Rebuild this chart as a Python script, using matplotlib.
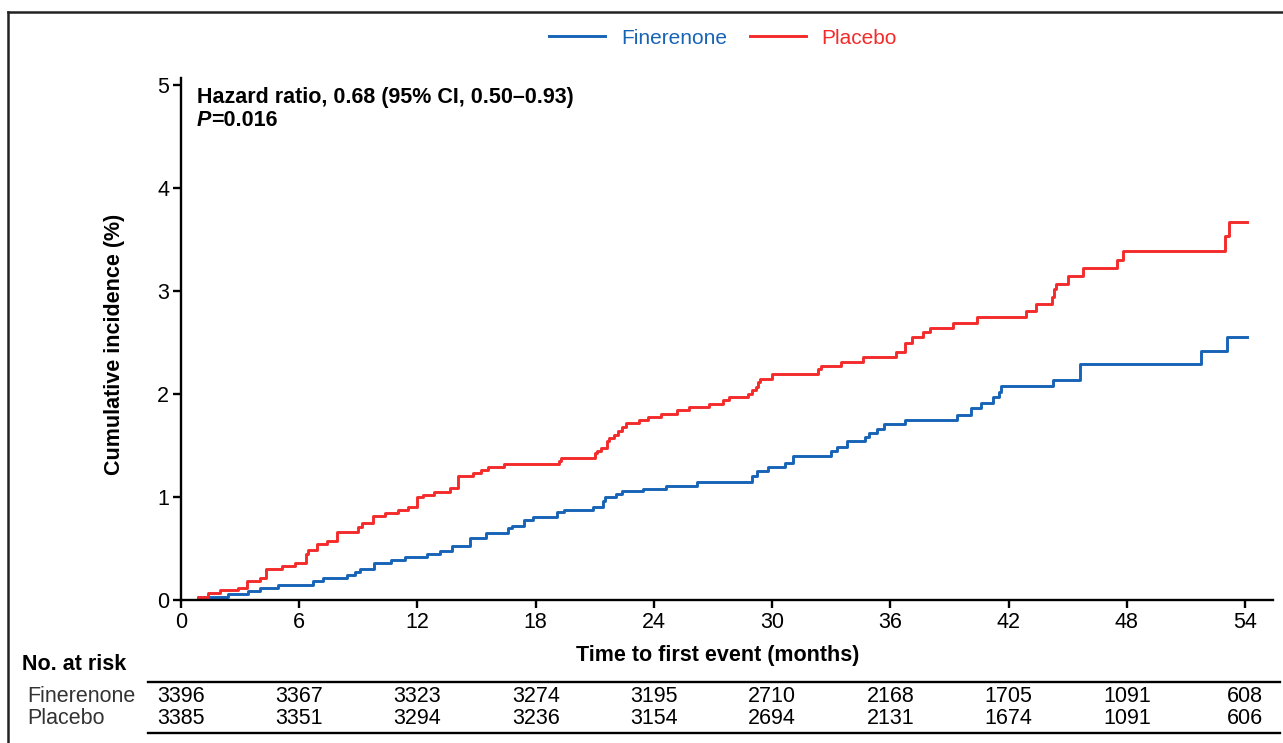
import matplotlib
matplotlib.use('Agg')
import matplotlib.pyplot as plt
from matplotlib.lines import Line2D
from matplotlib.transforms import blended_transform_factory

plt.rcParams['font.family'] = ['Liberation Sans', 'DejaVu Sans']

# step curves (time in months, cumulative incidence in %)
placebo_t = [0, 0.85, 1.35, 1.98, 2.9, 3.33, 4.0, 4.3, 5.15, 5.79, 6.35, 6.46, 6.9, 7.4, 7.9,
             8.97, 9.17, 9.76, 10.36, 11.0, 11.54, 12.0, 12.3, 12.86, 13.65, 14.08, 14.84, 15.2,
             15.6, 16.4, 19.2, 19.3, 21.0, 21.1, 21.3, 21.6, 21.73, 22.0, 22.2, 22.4, 22.57,
             23.26, 23.7, 24.37, 25.16, 25.8, 26.8, 27.5, 27.8, 28.8, 28.97, 29.2, 29.3, 29.4,
             30.0, 32.35, 32.5, 33.5, 34.6, 36.3, 36.75, 37.1, 37.65, 38.0, 39.2, 40.4, 42.9,
             43.4, 44.2, 44.3, 44.4, 45.04, 45.8, 47.5, 47.8, 53.0, 53.2, 54.1]
placebo_v = [0, 0.03, 0.065, 0.094, 0.12, 0.18, 0.21, 0.30, 0.33, 0.36, 0.45, 0.485, 0.54, 0.57,
             0.66, 0.71, 0.75, 0.815, 0.84, 0.87, 0.90, 1.0, 1.02, 1.05, 1.085, 1.20, 1.23, 1.26,
             1.29, 1.32, 1.35, 1.38, 1.43, 1.45, 1.48, 1.54, 1.57, 1.60, 1.64, 1.68, 1.715,
             1.75, 1.78, 1.81, 1.84, 1.87, 1.905, 1.94, 1.97, 2.0, 2.04, 2.07, 2.12, 2.15,
             2.19, 2.24, 2.275, 2.31, 2.36, 2.41, 2.50, 2.55, 2.60, 2.645, 2.69, 2.75, 2.81,
             2.87, 2.945, 3.02, 3.07, 3.145, 3.22, 3.30, 3.39, 3.53, 3.67, 3.67]

finerenone_t = [0, 0.85, 2.4, 3.4, 4.0, 4.94, 6.7, 7.2, 8.4, 8.83, 9.1, 9.8, 10.66, 11.37,
                12.47, 13.15, 13.74, 14.67, 15.5, 16.6, 16.8, 17.4, 17.85, 19.07, 19.44, 20.93,
                21.4, 21.54, 22.1, 22.4, 23.47, 24.6, 26.2, 28.97, 29.25, 29.8, 30.66, 31.08,
                33.0, 33.3, 33.8, 34.7, 34.9, 35.3, 35.7, 36.75, 39.4, 40.1, 40.6, 41.2, 41.5,
                41.6, 44.25, 45.6, 45.65, 51.76, 53.07, 54.1]
finerenone_v = [0, 0.026, 0.055, 0.087, 0.12, 0.15, 0.18, 0.21, 0.24, 0.275, 0.30, 0.356, 0.39,
                0.42, 0.45, 0.48, 0.52, 0.60, 0.655, 0.70, 0.72, 0.777, 0.81, 0.85, 0.874, 0.906,
                0.964, 0.997, 1.026, 1.058, 1.08, 1.11, 1.15, 1.20, 1.25, 1.29, 1.33, 1.40,
                1.45, 1.49, 1.54, 1.58, 1.62, 1.66, 1.71, 1.75, 1.80, 1.86, 1.915, 1.97, 2.02,
                2.08, 2.14, 2.23, 2.29, 2.42, 2.555, 2.555]

risk_times = [0, 6, 12, 18, 24, 30, 36, 42, 48, 54]
risk_finerenone = [3396, 3367, 3323, 3274, 3195, 2710, 2168, 1705, 1091, 608]
risk_placebo = [3385, 3351, 3294, 3236, 3154, 2694, 2131, 1674, 1091, 606]

BLUE = '#1764b6'
RED = '#f42b2b'
W, H = 1283, 743


def fx(px):
    return px / W


def fy(py):
    return 1 - py / H


fig = plt.figure(figsize=(12.83, 7.43), dpi=100)
ax = fig.add_axes([fx(181), fy(600), fx(1273) - fx(181), fy(78) - fy(600)])

ax.step(finerenone_t, finerenone_v, where='post', color=BLUE, lw=2.1, label='Finerenone')
ax.step(placebo_t, placebo_v, where='post', color=RED, lw=2.1, label='Placebo')

ax.set_xlim(0, 55.42)
ax.set_ylim(0, 5.068)
ax.set_xticks(risk_times)
ax.set_yticks([0, 1, 2, 3, 4, 5])
for s in ['top', 'right']:
    ax.spines[s].set_visible(False)
for s in ['left', 'bottom']:
    ax.spines[s].set_linewidth(1.7)
ax.tick_params(direction='out', length=6, width=1.7, labelsize=15.5, pad=2.5)

leg = fig.legend(loc='center', bbox_to_anchor=(fx(723), fy(38)), ncol=2, frameon=False,
                 fontsize=15, handlelength=2.7, handletextpad=0.75, columnspacing=1.1,
                 labelcolor='linecolor')

ax.text(fx(197), fy(97), 'Hazard ratio, 0.68 (95% CI, 0.50\u20130.93)', transform=fig.transFigure,
        fontsize=15.5, fontweight='bold', va='center', ha='left')
tp = ax.text(fx(197), fy(121), 'P', transform=fig.transFigure, fontsize=15.5,
             fontweight='bold', fontstyle='italic', va='center', ha='left')
ax.annotate('=0.016', xy=(1, 0), xycoords=tp, fontsize=15.5, fontweight='bold',
            va='bottom', ha='left')

fig.text(fx(115), fy(344), 'Cumulative incidence (%)', rotation=90, fontsize=15.5,
         fontweight='bold', ha='center', va='center')
fig.text(fx(718), fy(656), 'Time to first event (months)', fontsize=15.5,
         fontweight='bold', ha='center', va='center')
fig.text(fx(22), fy(664), 'No. at risk', fontsize=15.5, fontweight='bold', ha='left', va='center')

# number at risk table
tr = blended_transform_factory(ax.transData, fig.transFigure)
fig.text(fx(27), fy(697), 'Finerenone', fontsize=15.5, color='#333333', ha='left', va='center')
fig.text(fx(27), fy(718), 'Placebo', fontsize=15.5, color='#333333', ha='left', va='center')
for t, a, b in zip(risk_times, risk_finerenone, risk_placebo):
    ax.text(t, fy(697), str(a), transform=tr, fontsize=15.5, ha='center', va='center', clip_on=False)
    ax.text(t, fy(718), str(b), transform=tr, fontsize=15.5, ha='center', va='center', clip_on=False)

for py in [682, 733]:
    fig.add_artist(Line2D([fx(148), fx(1280)], [fy(py), fy(py)], color='black', lw=1.7))

# outer frame
fig.add_artist(Line2D([fx(8), 1], [fy(12), fy(12)], color='#222222', lw=1.8))
fig.add_artist(Line2D([fx(8), fx(8)], [fy(12), 0], color='#222222', lw=1.8))

fig.savefig('out.png', dpi=100)
